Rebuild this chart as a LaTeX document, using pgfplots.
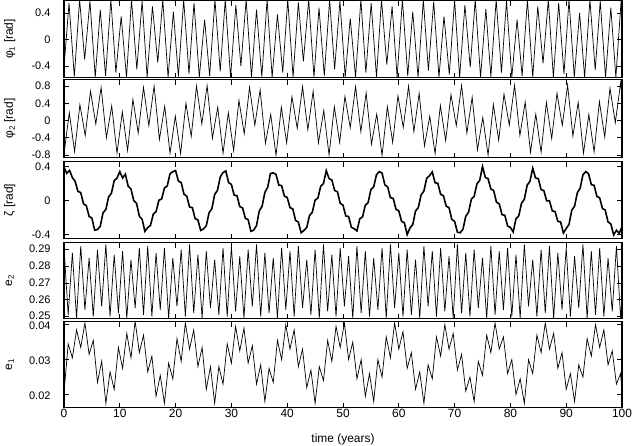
\documentclass[border=0pt]{standalone}
\usepackage{fontspec}
\setmainfont{Liberation Sans}
\usepackage{pgfplots}
\pgfplotsset{compat=1.18}

\pgfplotsset{
  panel/.style={
    scale only axis, width=558bp,
    xmin=0, xmax=100, xtick={0,10,20,30,40,50,60,70,80,90,100},
    tick align=inside, tick pos=both,
    major tick length=5bp,
    axis line style={line width=1.4bp},
    tick style={black, line width=0.8bp},
    scaled y ticks=false,
    /pgf/number format/assume math mode=true,
    xticklabel style={font=\fontsize{12}{14}\selectfont},
    yticklabel style={font=\fontsize{11}{13}\selectfont, xshift=-10bp},
    label style={font=\fontsize{12}{14}\selectfont},
    ylabel style={at={(axis description cs:-0.097,0.5)}, anchor=center},
    anchor=north west,
  },
  noxlab/.style={xticklabel=\empty},
  trace/.style={black, line width=0.7bp},
}

\begin{document}
\begin{tikzpicture}

% phi_1
\begin{axis}[panel, noxlab, at={(0bp,0bp)}, height=77bp,
  ymin=-0.574, ymax=0.589, ytick={-0.4,0,0.4},
  ylabel={φ\textsubscript{1} [rad]}]
\addplot[trace] coordinates {
(0,-0.42)(0.9,0.55)(1.85,-0.56)(2.8,0.6)(3.7,-0.3)(4.65,0.58)(5.6,-0.57)(6.5,0.45)
(7.45,-0.55)(8.4,0.6)(9.3,-0.5)(10.25,0.35)(11.2,-0.57)(12.1,0.6)(13.05,-0.45)(14,0.58)
(14.9,-0.57)(15.85,0.5)(16.8,-0.35)(17.7,0.6)(18.65,-0.57)(19.6,0.42)(20.5,-0.56)(21.45,0.6)
(22.4,-0.52)(23.3,0.55)(24.25,-0.57)(25.2,0.3)(26.1,-0.55)(27.05,0.6)(28,-0.48)(28.9,0.6)
(29.85,-0.57)(30.8,0.52)(31.7,-0.4)(32.65,0.6)(33.6,-0.57)(34.5,0.45)(35.45,-0.56)(36.4,0.6)
(37.3,-0.57)(38.25,0.38)(39.2,-0.5)(40.1,0.6)(41.05,-0.57)(42,0.56)(42.9,-0.33)(43.85,0.6)
(44.8,-0.57)(45.7,0.48)(46.65,-0.55)(47.6,0.6)(48.5,-0.45)(49.45,0.58)(50.4,-0.57)(51.3,0.32)
(52.25,-0.57)(53.2,0.6)(54.1,-0.5)(55.05,0.55)(56,-0.57)(56.9,0.6)(57.85,-0.38)(58.8,0.5)
(59.7,-0.57)(60.65,0.6)(61.6,-0.55)(62.5,0.42)(63.45,-0.57)(64.4,0.6)(65.3,-0.47)(66.25,0.57)
(67.2,-0.57)(68.1,0.35)(69.05,-0.53)(70,0.6)(70.9,-0.57)(71.85,0.52)(72.8,-0.42)(73.7,0.6)
(74.65,-0.57)(75.6,0.46)(76.5,-0.56)(77.45,0.6)(78.4,-0.5)(79.3,0.58)(80.25,-0.57)(81.2,0.3)
(82.1,-0.55)(83.05,0.6)(84,-0.57)(84.9,0.5)(85.85,-0.36)(86.8,0.6)(87.7,-0.57)(88.65,0.55)
(89.6,-0.52)(90.5,0.6)(91.45,-0.57)(92.4,0.4)(93.3,-0.57)(94.25,0.6)(95.2,-0.46)(96.1,0.58)
(97.05,-0.57)(98,0.48)(98.9,-0.57)(99.85,0.6)(100,0.1)
};
\end{axis}

% phi_2
\begin{axis}[panel, noxlab, at={(0bp,-79bp)}, height=78bp,
  ymin=-0.858, ymax=0.951, ytick={-0.8,-0.4,0,0.4,0.8},
  ylabel={φ\textsubscript{2} [rad]}]
\addplot[trace] coordinates {
(0,-0.77)(0.95,0.18)(1.9,-0.72)(2.85,0.37)(3.8,-0.35)(4.75,0.68)(5.7,-0.08)(6.65,0.77)
(7.6,-0.4)(8.55,0.34)(9.5,-0.76)(10.45,0.2)(11.4,-0.7)(12.35,0.49)(13.3,-0.29)(14.25,0.77)
(15.2,-0.12)(16.15,0.8)(17.1,-0.44)(18.05,0.33)(19,-0.76)(19.95,0.1)(20.9,-0.77)(21.85,0.4)
(22.8,-0.37)(23.75,0.8)(24.7,-0.08)(25.65,0.81)(26.6,-0.41)(27.55,0.31)(28.5,-0.76)(29.45,0.18)
(30.4,-0.7)(31.35,0.47)(32.3,-0.31)(33.25,0.77)(34.2,-0.11)(35.15,0.71)(36.1,-0.53)(37.05,0.14)
(38,-0.81)(38.95,0.31)(39.9,-0.52)(40.85,0.55)(41.8,-0.18)(42.75,0.79)(43.7,-0.22)(44.65,0.68)
(45.6,-0.52)(46.55,0.23)(47.5,-0.8)(48.45,0.32)(49.4,-0.51)(50.35,0.56)(51.3,-0.17)(52.25,0.79)
(53.2,-0.26)(54.15,0.64)(55.1,-0.55)(56.05,0.15)(57,-0.81)(57.95,0.32)(58.9,-0.51)(59.85,0.57)
(60.8,-0.16)(61.75,0.8)(62.7,-0.26)(63.65,0.63)(64.6,-0.59)(65.55,0.1)(66.5,-0.77)(67.45,0.35)
(68.4,-0.47)(69.35,0.6)(70.3,-0.12)(71.25,0.82)(72.2,-0.29)(73.15,0.54)(74.1,-0.68)(75.05,0.07)
(76,-0.8)(76.95,0.37)(77.9,-0.46)(78.85,0.61)(79.8,-0.11)(80.75,0.82)(81.7,-0.35)(82.65,0.43)
(83.6,-0.74)(84.55,0.15)(85.5,-0.74)(86.45,0.42)(87.4,-0.42)(88.35,0.63)(89.3,-0.11)(90.25,0.82)
(91.2,-0.36)(92.15,0.42)(93.1,-0.76)(94.05,0.14)(95,-0.73)(95.95,0.44)(96.9,-0.38)(97.85,0.75)
(98.8,-0.05)(99.75,0.87)(100,0.6)
};
\end{axis}

% zeta
\begin{axis}[panel, noxlab, at={(0bp,-161bp)}, height=77bp,
  ymin=-0.447, ymax=0.459, ytick={-0.4,0,0.4},
  ylabel={ζ [rad]}]
\addplot[black, line width=1.6bp] coordinates {
(0,0.39)(0.5,0.32)(1,0.355)(1.5,0.27)(2,0.225)(2.5,0.107)(3,0.093)(3.5,-0.04)
(4,-0.061)(4.5,-0.187)(5,-0.208)(5.5,-0.349)(6,-0.341)(6.5,-0.303)(7,-0.144)(7.5,-0.106)
(8,0.043)(8.5,0.086)(9,0.235)(9.5,0.263)(10,0.34)(10.5,0.265)(11,0.31)(11.5,0.168)
(12,0.136)(12.5,-0.001)(13,-0.032)(13.5,-0.184)(14,-0.221)(14.5,-0.363)(15,-0.318)(15.5,-0.294)
(16,-0.16)(16.5,-0.131)(17,0.003)(17.5,0.018)(18,0.147)(18.5,0.171)(19,0.315)(19.5,0.339)
(20,0.352)(20.5,0.229)(21,0.212)(21.5,0.074)(22,0.051)(22.5,-0.076)(23,-0.084)(23.5,-0.212)
(24,-0.229)(24.5,-0.352)(25,-0.334)(25.5,-0.297)(26,-0.144)(26.5,-0.096)(27,0.071)(27.5,0.119)
(28,0.277)(28.5,0.329)(29,0.348)(29.5,0.211)(30,0.189)(30.5,0.063)(31,0.056)(31.5,-0.071)
(32,-0.087)(32.5,-0.209)(33,-0.226)(33.5,-0.363)(34,-0.348)(34.5,-0.295)(35,-0.121)(35.5,-0.068)
(36,0.096)(36.5,0.155)(37,0.318)(37.5,0.326)(38,0.306)(38.5,0.181)(39,0.176)(39.5,0.051)
(40,0.036)(40.5,-0.084)(41,-0.099)(41.5,-0.234)(42,-0.254)(42.5,-0.379)(43,-0.352)(43.5,-0.319)
(44,-0.176)(44.5,-0.138)(45,0.005)(45.5,0.028)(46,0.166)(46.5,0.199)(47,0.352)(47.5,0.258)
(48,0.241)(48.5,0.12)(49,0.103)(49.5,-0.033)(50,-0.055)(50.5,-0.182)(51,-0.188)(51.5,-0.315)
(52,-0.331)(52.5,-0.358)(53,-0.215)(53.5,-0.193)(54,-0.056)(54.5,-0.024)(55,0.128)(55.5,0.161)
(56,0.303)(56.5,0.34)(57,0.322)(57.5,0.184)(58,0.161)(58.5,0.033)(59,0.025)(59.5,-0.103)
(60,-0.122)(60.5,-0.245)(61,-0.263)(61.5,-0.401)(62,-0.323)(62.5,-0.283)(63,-0.123)(63.5,-0.083)
(64,0.067)(64.5,0.112)(65,0.262)(65.5,0.292)(66,0.336)(66.5,0.209)(67,0.201)(67.5,0.073)
(68,0.056)(68.5,-0.067)(69,-0.084)(69.5,-0.222)(70,-0.245)(70.5,-0.372)(71,-0.38)(71.5,-0.338)
(72,-0.185)(72.5,-0.138)(73,0.015)(73.5,0.048)(74,0.195)(74.5,0.238)(75,0.4)(75.5,0.273)
(76,0.257)(76.5,0.135)(77,0.118)(77.5,-0.019)(78,-0.04)(78.5,-0.167)(79,-0.174)(79.5,-0.3)
(80,-0.317)(80.5,-0.37)(81,-0.215)(81.5,-0.18)(82,-0.03)(82.5,0.015)(83,0.18)(83.5,0.225)
(84,0.38)(84.5,0.266)(85,0.257)(85.5,0.129)(86,0.115)(86.5,-0.004)(87,-0.003)(87.5,-0.122)
(88,-0.13)(88.5,-0.244)(89,-0.253)(89.5,-0.382)(90,-0.329)(90.5,-0.281)(91,-0.114)(91.5,-0.066)
(92,0.092)(92.5,0.145)(93,0.302)(93.5,0.34)(94,0.316)(94.5,0.187)(95,0.178)(95.5,0.049)
(96,0.03)(96.5,-0.094)(97,-0.113)(97.5,-0.252)(98,-0.276)(98.5,-0.405)(99,-0.35)(99.5,-0.385)
(100,-0.31)
};
\end{axis}

% e_2
\begin{axis}[panel, noxlab, at={(0bp,-242bp)}, height=76bp,
  ymin=0.2488, ymax=0.2942, ytick={0.25,0.26,0.27,0.28,0.29},
  yticklabel style={/pgf/number format/fixed, /pgf/number format/precision=2, yshift=0.5bp},
  ylabel={e\textsubscript{2}}]
\addplot[trace] coordinates {
(0,0.291)(0.75,0.251)(1.5,0.288)(2.25,0.249)(3,0.292)(3.75,0.254)(4.5,0.285)(5.25,0.250)
(6,0.290)(6.75,0.256)(7.5,0.293)(8.25,0.250)(9,0.287)(9.75,0.252)(10.5,0.289)(11.25,0.249)
(12,0.284)(12.75,0.255)(13.5,0.291)(14.25,0.251)(15,0.292)(15.75,0.250)(16.5,0.288)(17.25,0.254)
(18,0.291)(18.75,0.249)(19.5,0.285)(20.25,0.256)(21,0.290)(21.75,0.250)(22.5,0.293)(23.25,0.252)
(24,0.287)(24.75,0.249)(25.5,0.289)(26.25,0.255)(27,0.284)(27.75,0.251)(28.5,0.291)(29.25,0.250)
(30,0.292)(30.75,0.253)(31.5,0.286)(32.25,0.249)(33,0.290)(33.75,0.256)(34.5,0.293)(35.25,0.250)
(36,0.288)(36.75,0.252)(37.5,0.285)(38.25,0.249)(39,0.291)(39.75,0.254)(40.5,0.289)(41.25,0.250)
(42,0.292)(42.75,0.255)(43.5,0.284)(44.25,0.251)(45,0.290)(45.75,0.249)(46.5,0.293)(47.25,0.253)
(48,0.287)(48.75,0.250)(49.5,0.291)(50.25,0.256)(51,0.286)(51.75,0.249)(52.5,0.292)(53.25,0.252)
(54,0.289)(54.75,0.250)(55.5,0.285)(56.25,0.254)(57,0.291)(57.75,0.249)(58.5,0.293)(59.25,0.255)
(60,0.288)(60.75,0.250)(61.5,0.290)(62.25,0.251)(63,0.284)(63.75,0.249)(64.5,0.292)(65.25,0.256)
(66,0.289)(66.75,0.250)(67.5,0.291)(68.25,0.253)(69,0.286)(69.75,0.249)(70.5,0.293)(71.25,0.252)
(72,0.288)(72.75,0.250)(73.5,0.290)(74.25,0.255)(75,0.285)(75.75,0.249)(76.5,0.292)(77.25,0.251)
(78,0.289)(78.75,0.254)(79.5,0.291)(80.25,0.250)(81,0.287)(81.75,0.249)(82.5,0.293)(83.25,0.256)
(84,0.284)(84.75,0.250)(85.5,0.290)(86.25,0.252)(87,0.292)(87.75,0.249)(88.5,0.288)(89.25,0.254)
(90,0.291)(90.75,0.250)(91.5,0.286)(92.25,0.255)(93,0.293)(93.75,0.249)(94.5,0.289)(95.25,0.251)
(96,0.291)(96.75,0.250)(97.5,0.285)(98.25,0.253)(99,0.292)(99.75,0.249)(100,0.262)
};
\end{axis}

% e_1
\begin{axis}[panel, at={(0bp,-321bp)}, height=86bp,
  ymin=0.0163, ymax=0.0409, ytick={0.02,0.03,0.04},
  yticklabel style={/pgf/number format/fixed, /pgf/number format/precision=2, yshift=-1.5bp},
  xticklabel style={yshift=2bp},
  ylabel={e\textsubscript{1}},
  xlabel={time (years)},
  xlabel style={at={(axis description cs:0.5,0)}, anchor=north, yshift=-23bp}]
\addplot[trace] coordinates {
(0,0.0205)(0.75,0.0345)(1.5,0.0305)(2.25,0.0385)(3,0.0335)(3.75,0.0405)(4.5,0.0315)(5.25,0.0355)
(6,0.0235)(6.75,0.0295)(7.5,0.0175)(8.25,0.0265)(9,0.0215)(9.75,0.0335)(10.5,0.0275)(11.25,0.0375)
(12,0.0305)(12.75,0.0410)(13.5,0.0320)(14.25,0.0370)(15,0.0265)(15.75,0.0310)(16.5,0.0195)(17.25,0.0255)
(18,0.0175)(18.75,0.0290)(19.5,0.0245)(20.25,0.0360)(21,0.0295)(21.75,0.0405)(22.5,0.0330)(23.25,0.0385)
(24,0.0280)(24.75,0.0335)(25.5,0.0215)(26.25,0.0280)(27,0.0175)(27.75,0.0280)(28.5,0.0230)(29.25,0.0345)
(30,0.0290)(30.75,0.0395)(31.5,0.0325)(32.25,0.0390)(33,0.0290)(33.75,0.0340)(34.5,0.0230)(35.25,0.0285)
(36,0.0180)(36.75,0.0275)(37.5,0.0235)(38.25,0.0355)(39,0.0300)(39.75,0.0400)(40.5,0.0330)(41.25,0.0385)
(42,0.0280)(42.75,0.0330)(43.5,0.0220)(44.25,0.0270)(45,0.0175)(45.75,0.0280)(46.5,0.0240)(47.25,0.0355)
(48,0.0295)(48.75,0.0395)(49.5,0.0335)(50.25,0.0405)(51,0.0300)(51.75,0.0350)(52.5,0.0245)(53.25,0.0300)
(54,0.0195)(54.75,0.0260)(55.5,0.0180)(56.25,0.0300)(57,0.0250)(57.75,0.0365)(58.5,0.0305)(59.25,0.0405)
(60,0.0330)(60.75,0.0380)(61.5,0.0275)(62.25,0.0320)(63,0.0215)(63.75,0.0265)(64.5,0.0175)(65.25,0.0285)
(66,0.0245)(66.75,0.0365)(67.5,0.0310)(68.25,0.0400)(69,0.0330)(69.75,0.0375)(70.5,0.0270)(71.25,0.0315)
(72,0.0210)(72.75,0.0250)(73.5,0.0180)(74.25,0.0295)(75,0.0255)(75.75,0.0370)(76.5,0.0320)(77.25,0.0405)
(78,0.0330)(78.75,0.0365)(79.5,0.0260)(80.25,0.0300)(81,0.0200)(81.75,0.0245)(82.5,0.0175)(83.25,0.0300)
(84,0.0260)(84.75,0.0370)(85.5,0.0320)(86.25,0.0405)(87,0.0330)(87.75,0.0375)(88.5,0.0275)(89.25,0.0320)
(90,0.0215)(90.75,0.0260)(91.5,0.0180)(92.25,0.0285)(93,0.0250)(93.75,0.0360)(94.5,0.0310)(95.25,0.0400)
(96,0.0335)(96.75,0.0385)(97.5,0.0285)(98.25,0.0325)(99,0.0230)(99.75,0.0260)(100,0.0205)
};
\end{axis}

\pgfresetboundingbox
\path (-64bp,0.5bp) rectangle (570bp,-445.5bp);
\end{tikzpicture}
\end{document}
